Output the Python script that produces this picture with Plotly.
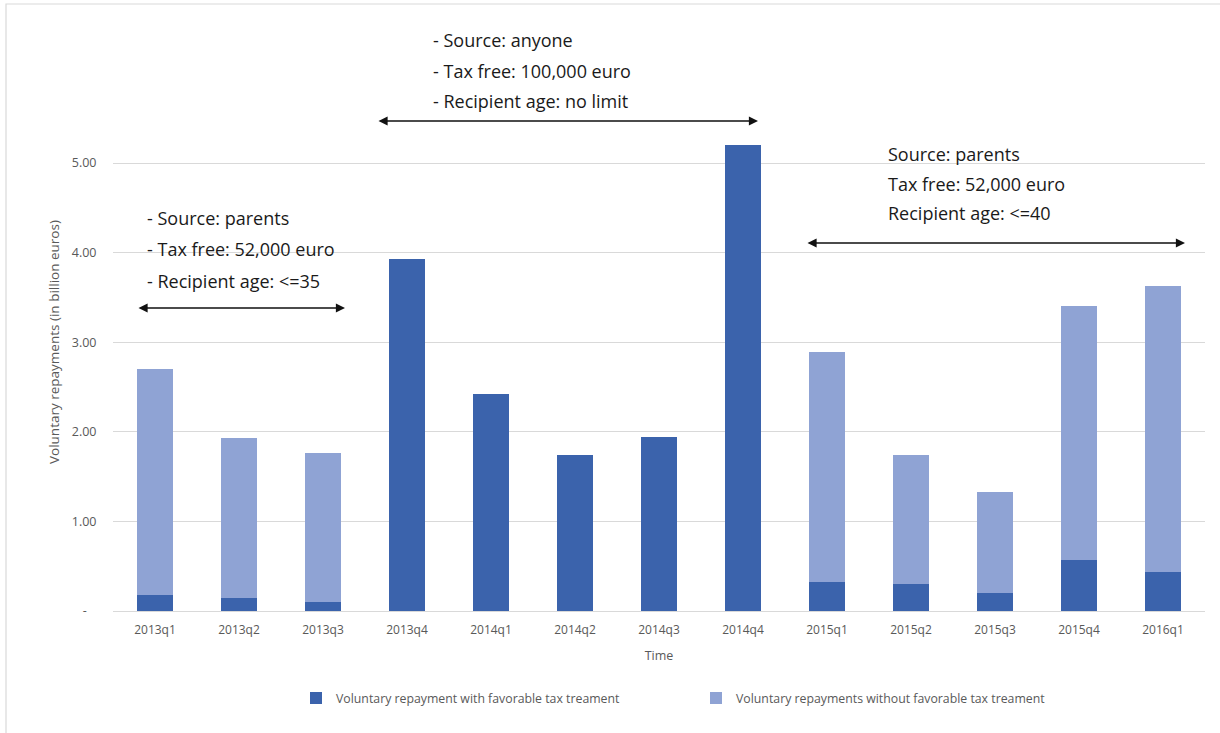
import plotly.graph_objects as go

quarters = ["2013q1", "2013q2", "2013q3", "2013q4", "2014q1", "2014q2", "2014q3",
            "2014q4", "2015q1", "2015q2", "2015q3", "2015q4", "2016q1"]
with_tax = [0.18, 0.15, 0.10, 3.93, 2.42, 1.74, 1.94, 5.20, 0.32, 0.30, 0.20, 0.57, 0.43]
without_tax = [2.52, 1.78, 1.66, 0.0, 0.0, 0.0, 0.0, 0.0, 2.57, 1.44, 1.13, 2.83, 3.20]
y_ticks = [0, 1, 2, 3, 4, 5]
y_tick_text = ["-\u00a0\u00a0\u00a0", "1.00", "2.00", "3.00", "4.00", "5.00"]

dark = "#3B63AC"
light = "#8FA3D4"
grid = "#D9D9D9"
gray_txt = "#595959"

# plot area in pixels
L, R, T, B = 113, 1205, 20, 611
W, H = 1220, 733
PX_PER_UNIT = 89.6

def px(x):
    return (x - L) / (R - L)

def py(y):
    return (B - y) / (B - T)

fig = go.Figure()
fig.add_trace(go.Bar(x=quarters, y=with_tax, name="Voluntary repayment with favorable tax treament",
                     marker=dict(color=dark, line=dict(width=0))))
fig.add_trace(go.Bar(x=quarters, y=without_tax, name="Voluntary repayments without favorable tax treament",
                     marker=dict(color=light, line=dict(width=0))))

ann_font = dict(family="Open Sans, Noto Sans, sans-serif", size=18, color="#1a1a1a")
annotations = []
blocks = [
    (145, [218, 249, 281], ["- Source: parents", "- Tax free: 52,000 euro", "- Recipient age: <=35"]),
    (431, [40, 71, 101], ["- Source: anyone", "- Tax free: 100,000 euro", "- Recipient age: no limit"]),
    (886, [154, 184, 213], ["Source: parents", "Tax free: 52,000 euro", "Recipient age: <=40"]),
]
for x0, ys, lines in blocks:
    for y0, t in zip(ys, lines):
        annotations.append(dict(xref="paper", yref="paper", x=px(x0), y=py(y0), text=t,
                                showarrow=False, xanchor="left", yanchor="middle", font=ann_font))

arrows = [(137, 345, 308), (377, 758, 121), (806, 1185, 243)]
for xa, xb, yy in arrows:
    annotations.append(dict(xref="paper", yref="paper", x=px(xb), y=py(yy), text="",
                            showarrow=True, ax=-(xb - xa), ay=0, axref="pixel", ayref="pixel",
                            arrowside="end+start", arrowhead=2, arrowsize=1.4, arrowwidth=1.3,
                            arrowcolor="#111111", standoff=0, startstandoff=0))

annotations.append(dict(xref="paper", yref="paper", x=px(54), y=py(342),
                        text="Voluntary repayments (in billion euros)", textangle=-90,
                        showarrow=False, xanchor="center", yanchor="middle",
                        font=dict(family="Open Sans, sans-serif", size=13.5, color=gray_txt)))

fig.update_layout(
    width=W, height=H,
    margin=dict(l=L, r=W - R, t=T, b=H - B, pad=0),
    barmode="stack",
    bargap=0.58,
    plot_bgcolor="white",
    paper_bgcolor="white",
    font=dict(family="Open Sans, sans-serif", color=gray_txt, size=12),
    showlegend=True,
    legend=dict(orientation="h", x=px(296), y=py(698), xanchor="left", yanchor="middle",
                font=dict(size=12.3, color=gray_txt), entrywidth=355, entrywidthmode="pixels",
                itemwidth=30, traceorder="normal"),
    annotations=annotations,
    shapes=[dict(type="rect", xref="paper", yref="paper", x0=px(6), x1=px(1240), y0=py(4), y1=py(760),
                 line=dict(color=grid, width=1.2), fillcolor="rgba(0,0,0,0)", layer="below")],
    xaxis=dict(type="category", range=[-0.5, 12.5], showgrid=False, showline=True, linecolor=grid,
               linewidth=1, ticks="", ticklabelstandoff=8, tickfont=dict(size=12, color=gray_txt),
               title=dict(text="Time", font=dict(size=12.5, color=gray_txt), standoff=13)),
    yaxis=dict(range=[0, (B - T) / PX_PER_UNIT], tickvals=y_ticks, ticktext=y_tick_text,
               showgrid=True, gridcolor=grid, gridwidth=1, zeroline=False, showline=False,
               ticks="outside", ticklen=13, tickcolor="rgba(0,0,0,0)",
               tickfont=dict(size=12.5, color=gray_txt)),
)

fig.write_html("out.html")
